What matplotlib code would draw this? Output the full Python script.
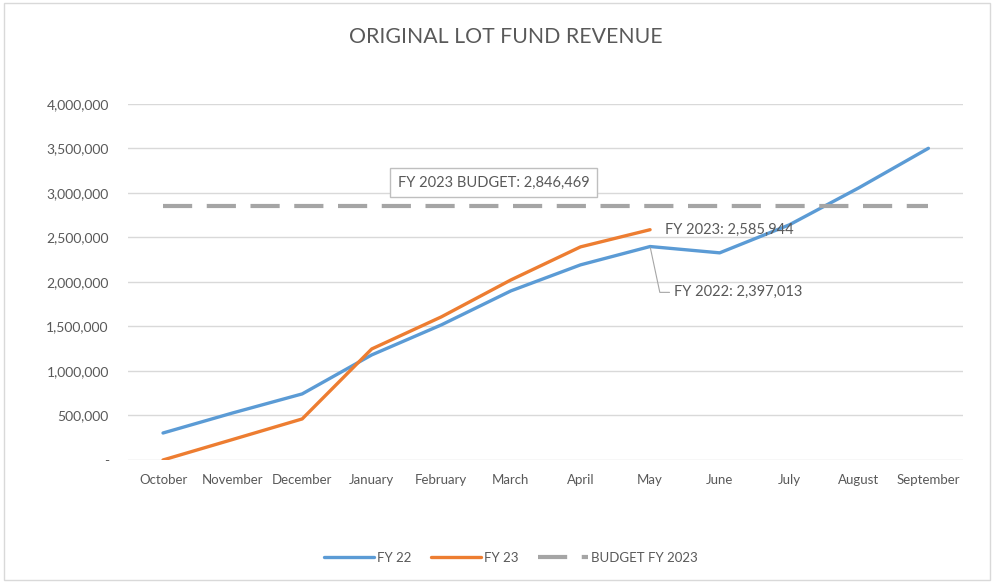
import matplotlib.pyplot as plt
from matplotlib.patches import Rectangle
from matplotlib.ticker import FuncFormatter

plt.rcParams['font.family'] = ['Lato', 'DejaVu Sans']

# data
months = ["October", "November", "December", "January", "February", "March",
          "April", "May", "June", "July", "August", "September"]
fy22 = [303000, 528000, 742000, 1180000, 1517000, 1899000,
        2191000, 2397013, 2326000, 2640000, 3056000, 3500000]
fy23 = [0, 230000, 461000, 1247000, 1607000, 2022000, 2393000, 2585944]
budget = 2846469

grey = "#595959"
blue = "#5b9bd5"
orange = "#ed7d31"
budget_col = "#a5a5a5"

fig = plt.figure(figsize=(9.94, 5.83), dpi=100)
ax = fig.add_axes([0.129, 0.211, 0.84, 0.611])

x = list(range(len(months)))
ax.plot(x, fy22, color=blue, lw=2.4, label="FY 22", solid_capstyle="round")
ax.plot(x[:len(fy23)], fy23, color=orange, lw=2.4, label="FY 23", solid_capstyle="round")
ax.plot(x, [budget] * len(x), color=budget_col, lw=3, dashes=(7, 3.5),
        label="BUDGET FY 2023")

ax.set_xlim(-0.5, 11.5)
ax.set_ylim(0, 4000000)
ax.set_yticks(range(0, 4000001, 500000))
ax.yaxis.set_major_formatter(FuncFormatter(lambda v, p: "-" if v == 0 else f"{int(v):,}"))
ax.set_xticks(x)
ax.set_xticklabels(months)
ax.tick_params(length=0, colors=grey, labelsize=9.5)
ax.tick_params(axis="y", pad=14, labelsize=10)
ax.tick_params(axis="x", pad=10)
ax.grid(axis="y", color="#d9d9d9", lw=1)
ax.set_axisbelow(True)
for s in ax.spines.values():
    s.set_visible(False)

# labels
ax.text(4.75, budget + 270000, f"FY 2023 BUDGET: {budget:,}", ha="center", va="center",
        color=grey, fontsize=10.5,
        bbox=dict(boxstyle="square,pad=0.5", fc="white", ec="#bfbfbf", lw=1))
ax.annotate(f"FY 2023: {fy23[-1]:,}", xy=(7, fy23[-1]), xytext=(11, 0),
            textcoords="offset points", va="center", ha="left", color=grey, fontsize=10.5)
ax.annotate(f"FY 2022: {fy22[7]:,}", xy=(7, fy22[7]), xytext=(17, -33),
            textcoords="offset points", va="center", ha="left", color=grey, fontsize=10.5,
            arrowprops=dict(arrowstyle="-", color="#a6a6a6", lw=0.8,
                            shrinkA=1, shrinkB=1,
                            connectionstyle="angle,angleA=0,angleB=-78,rad=0"))

fig.suptitle("ORIGINAL LOT FUND REVENUE", x=0.509, y=0.953, color=grey, fontsize=15.3)

fig.legend(loc="center", bbox_to_anchor=(0.514, 0.043), ncol=3, frameon=False,
           handlelength=3.8, columnspacing=1.5, handletextpad=0.2,
           fontsize=9.5, labelcolor=grey)

fig.patches.append(Rectangle((0.004, 0.005), 0.992, 0.99, transform=fig.transFigure,
                             fill=False, ec="#d9d9d9", lw=1))

fig.savefig("out.png", dpi=100)
